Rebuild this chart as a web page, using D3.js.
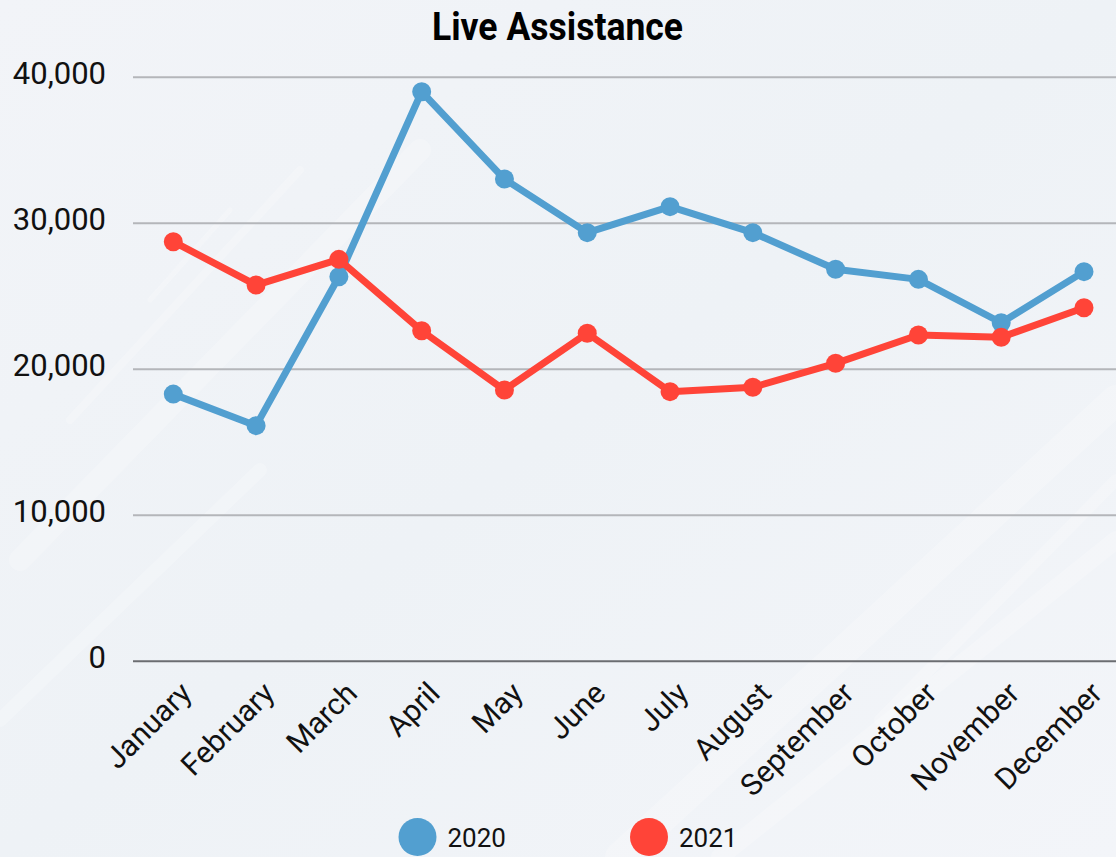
<!DOCTYPE html>
<html><head><meta charset="utf-8">
<script src="https://cdn.jsdelivr.net/npm/d3@7"></script>
<style>html,body{margin:0;padding:0;overflow:hidden;}svg{display:block;}</style>
</head><body>
<svg id="chart" width="1116" height="857"></svg>
<script>
const months = ["January","February","March","April","May","June","July","August","September","October","November","December"];
const values2020 = [18300, 16140, 26340, 39010, 33030, 29360, 31140, 29360, 26850, 26160, 23190, 26690];
const values2021 = [28740, 25770, 27530, 22640, 18580, 22470, 18470, 18770, 20410, 22350, 22190, 24220];
const yTicks = [0, 10000, 20000, 30000, 40000];
const seriesNames = ["2020", "2021"];
const colors = ["#529fd0", "#ff4438"];
const title = "Live Assistance";

const W = 1116, H = 857;
const svg = d3.select("#chart");
const defs = svg.append("defs");
const grad = defs.append("linearGradient").attr("id","bg").attr("x1","0").attr("y1","0").attr("x2","1").attr("y2","1");
grad.append("stop").attr("offset","0").attr("stop-color","#f2f4f8");
grad.append("stop").attr("offset","0.5").attr("stop-color","#eef2f6");
grad.append("stop").attr("offset","1").attr("stop-color","#f3f5f9");
svg.append("rect").attr("width",W).attr("height",H).attr("fill","url(#bg)");
// faint diagonal streaks
const streaks = [[20,560,420,150,22],[70,420,300,170,8],[620,857,1116,400,30],[720,857,1116,540,18],[880,720,1116,480,12],[0,720,260,470,14],[150,300,230,210,5]];
streaks.forEach(s=>{
  svg.append("line").attr("x1",s[0]).attr("y1",s[1]).attr("x2",s[2]).attr("y2",s[3])
    .attr("stroke","#ffffff").attr("stroke-opacity",0.22).attr("stroke-width",s[4]).attr("stroke-linecap","round");
});

const x = d3.scalePoint().domain(months).range([173.3, 1084]);
const y = d3.scaleLinear().domain([0, 40000]).range([661.3, 77.3]);
const x0 = 133, x1 = 1116;

// gridlines
svg.append("g").selectAll("line").data(yTicks.filter(d=>d>0)).join("line")
  .attr("x1",x0).attr("x2",x1).attr("y1",d=>y(d)).attr("y2",d=>y(d))
  .attr("stroke","#b4b6ba").attr("stroke-width",2);
svg.append("line").attr("x1",x0).attr("x2",x1).attr("y1",y(0)).attr("y2",y(0))
  .attr("stroke","#6b6d71").attr("stroke-width",2);

// y axis labels
const yAxis = d3.axisLeft(y).tickValues(yTicks).tickSize(0).tickPadding(0).tickFormat(d3.format(","));
const gy = svg.append("g").attr("transform","translate(106,0)").call(yAxis);
gy.select(".domain").remove();
gy.selectAll("text").attr("font-family","Roboto, sans-serif").attr("font-size",31).attr("fill","#111").attr("dy","0.2em");

// x axis labels
const xAxis = d3.axisBottom(x).tickSize(0).tickPadding(0);
const gx = svg.append("g").call(xAxis);
gx.select(".domain").remove();
gx.selectAll(".tick").attr("transform", d=>`translate(${x(d)+20},695)`);
gx.selectAll("text").attr("font-family","Roboto, sans-serif").attr("font-size",30).attr("fill","#111")
  .attr("text-anchor","end").attr("x",0).attr("y",0).attr("dy","0").attr("transform","rotate(-45)");

// lines
const line = d3.line().x((d,i)=>x(months[i])).y(d=>y(d));
[values2020, values2021].forEach((vals, k)=>{
  svg.append("path").datum(vals).attr("d",line).attr("fill","none")
    .attr("stroke",colors[k]).attr("stroke-width",7).attr("stroke-linejoin","round");
  svg.append("g").selectAll("circle").data(vals).join("circle")
    .attr("cx",(d,i)=>x(months[i])).attr("cy",d=>y(d)).attr("r",9.5).attr("fill",colors[k]);
});

// title
svg.append("text").attr("x",557.5).attr("y",40).attr("text-anchor","middle")
  .attr("font-family","Roboto, sans-serif").attr("font-weight","bold").attr("font-size",38)
  .attr("textLength",251).attr("lengthAdjust","spacingAndGlyphs").attr("fill","#000").text(title);

// legend
const legendX = [417.5, 649];
const lg = svg.append("g").selectAll("g").data(seriesNames).join("g")
  .attr("transform",(d,i)=>`translate(${legendX[i]},837)`);
lg.append("circle").attr("r",19).attr("fill",(d,i)=>colors[i]);
lg.append("text").attr("x",30).attr("y",10)
  .attr("font-family","Roboto, sans-serif").attr("font-size",26).attr("fill","#111")
  .text(d=>d);
</script>
</body></html>
